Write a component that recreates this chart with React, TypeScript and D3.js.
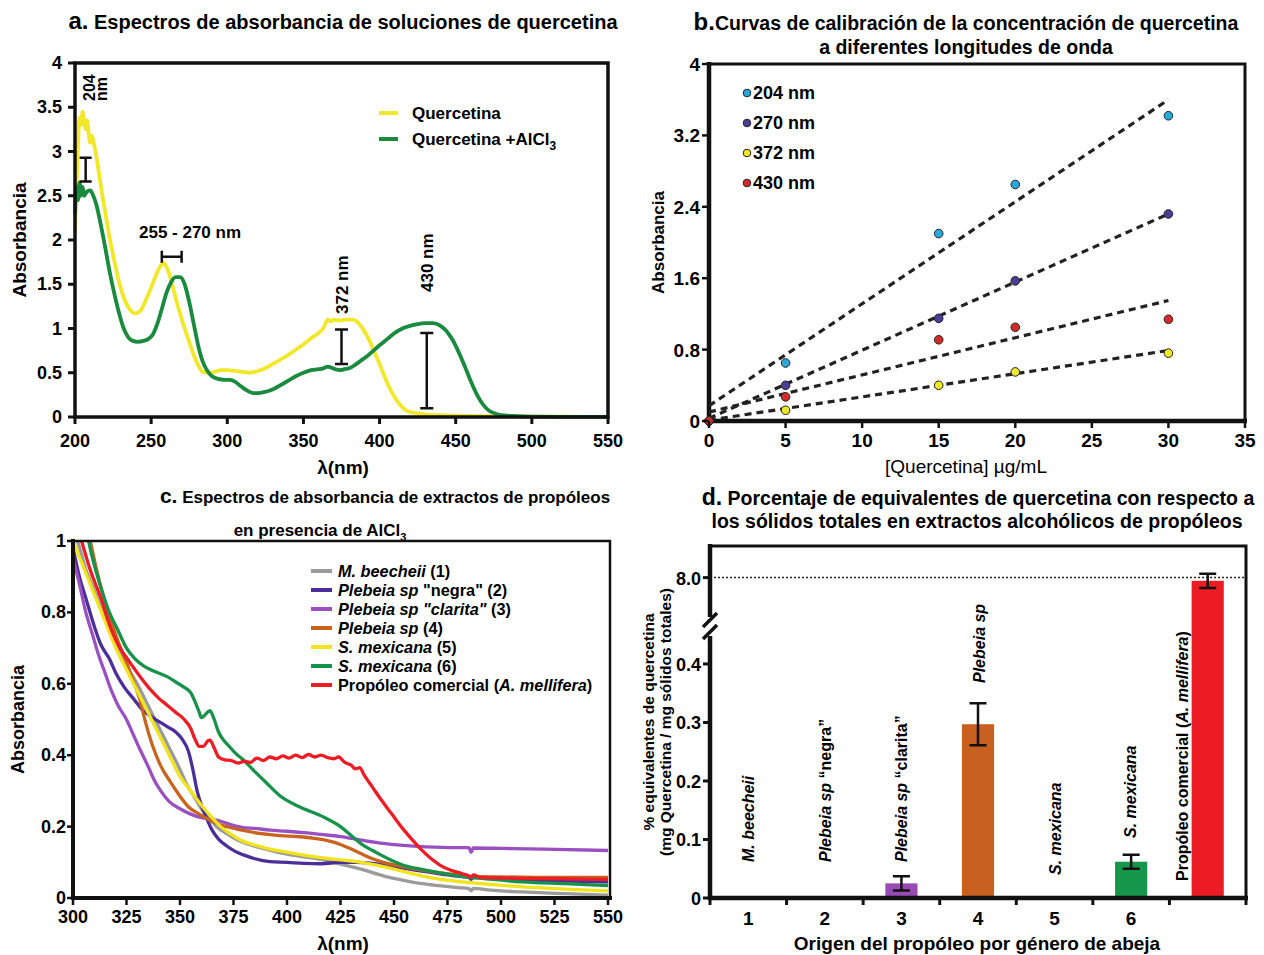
import React from 'react';
import * as d3 from 'd3';

const FONT = "'Liberation Sans', Arial, Helvetica, sans-serif";
const NARROW = "'Liberation Sans Narrow', 'Liberation Sans', Arial, sans-serif";

// ---------- panel a: quercetin spectra ----------
const quercetina: [number, number][] = [
  [200, 2.1], [201, 2.6], [202, 3.1], [203, 3.38], [204, 3.3], [205, 3.45], [206, 3.35], [207, 3.25],
  [208, 3.35], [209, 3.2], [210, 3.1], [211, 3.18], [212, 3.12], [214, 2.95], [216, 2.72], [218, 2.5],
  [220, 2.3], [223, 2.0], [226, 1.75], [229, 1.52], [232, 1.35], [235, 1.24], [238, 1.18], [240, 1.17],
  [243, 1.2], [246, 1.3], [249, 1.42], [252, 1.55], [255, 1.67], [258, 1.74], [260, 1.7], [263, 1.55],
  [266, 1.35], [269, 1.17], [272, 1.0], [275, 0.85], [278, 0.7], [281, 0.58], [284, 0.51], [288, 0.5],
  [292, 0.51], [296, 0.53], [300, 0.53], [305, 0.52], [310, 0.51], [315, 0.5], [320, 0.52], [325, 0.55],
  [330, 0.6], [335, 0.65], [340, 0.7], [345, 0.76], [350, 0.82], [355, 0.89], [360, 0.95], [363, 1.0],
  [366, 1.1], [368, 1.08], [370, 1.1], [374, 1.09], [378, 1.1], [382, 1.1], [385, 1.08], [388, 1.02],
  [391, 0.94], [394, 0.84], [397, 0.72], [400, 0.6], [403, 0.47], [406, 0.35], [409, 0.25], [412, 0.17],
  [415, 0.11], [418, 0.07], [422, 0.05], [426, 0.04], [430, 0.03], [440, 0.02], [460, 0.012], [480, 0.008],
  [500, 0.005], [520, 0.003], [550, 0.002],
];

const quercetinaAlcl3: [number, number][] = [
  [200, 2.3], [201, 2.6], [202, 2.45], [203, 2.65], [204, 2.5], [205, 2.6], [206, 2.5], [208, 2.55],
  [210, 2.56], [212, 2.5], [214, 2.4], [216, 2.25], [218, 2.08], [220, 1.9], [223, 1.62], [226, 1.38],
  [229, 1.17], [232, 1.0], [235, 0.9], [238, 0.86], [241, 0.85], [245, 0.86], [248, 0.88], [251, 0.93],
  [254, 1.05], [257, 1.22], [260, 1.4], [263, 1.52], [266, 1.58], [269, 1.58], [272, 1.5], [275, 1.3],
  [278, 1.05], [281, 0.8], [284, 0.62], [287, 0.52], [290, 0.46], [294, 0.43], [298, 0.42], [302, 0.42],
  [305, 0.4], [308, 0.36], [311, 0.32], [314, 0.29], [317, 0.27], [320, 0.27], [324, 0.28], [328, 0.3],
  [332, 0.33], [336, 0.37], [340, 0.41], [345, 0.46], [350, 0.5], [355, 0.53], [360, 0.54], [363, 0.55],
  [366, 0.57], [368, 0.56], [371, 0.54], [374, 0.53], [377, 0.54], [380, 0.55], [384, 0.59], [388, 0.64],
  [392, 0.69], [396, 0.75], [400, 0.81], [405, 0.88], [410, 0.95], [415, 1.0], [420, 1.03], [425, 1.05],
  [430, 1.06], [435, 1.06], [440, 1.03], [444, 0.97], [448, 0.87], [452, 0.73], [456, 0.57], [460, 0.4],
  [464, 0.25], [468, 0.14], [472, 0.07], [476, 0.04], [480, 0.02], [490, 0.01], [500, 0.005], [520, 0.002],
  [550, 0.001],
];

// ---------- panel b: calibration ----------
const calibConc = [0, 5, 15, 20, 30];
const abs204 = [0, 0.65, 2.1, 2.65, 3.42];
const abs270 = [0, 0.4, 1.15, 1.57, 2.32];
const abs372 = [0, 0.12, 0.4, 0.55, 0.76];
const abs430 = [0, 0.27, 0.91, 1.05, 1.14];
const fitEnds = [0, 30];
const fit204 = [0.17, 3.6];
const fit270 = [0.03, 2.32];
const fit372 = [0.01, 0.79];
const fit430 = [0.1, 1.35];
const calibLabels = ['204 nm', '270 nm', '372 nm', '430 nm'];
const calibColors = ['#2aa8dc', '#4a3d96', '#efe72c', '#d32b2b'];

// ---------- panel c: propolis spectra ----------
const mBeecheii: [number, number][] = [
  [300, 1.02], [302, 1.0], [306, 0.92], [310, 0.86], [315, 0.78], [320, 0.71], [325, 0.65], [330, 0.6],
  [335, 0.54], [340, 0.48], [345, 0.42], [350, 0.36], [353, 0.32], [356, 0.29], [360, 0.25], [364, 0.22],
  [368, 0.195], [372, 0.18], [376, 0.165], [380, 0.155], [388, 0.14], [396, 0.128], [405, 0.118],
  [416, 0.108], [425, 0.095], [435, 0.08], [445, 0.062], [454, 0.05], [463, 0.04], [472, 0.034],
  [480, 0.029], [485, 0.026], [486, 0.02], [487, 0.027], [495, 0.022], [510, 0.017], [530, 0.012], [550, 0.008],
];
const plebeiaNegra: [number, number][] = [
  [300, 0.98], [303, 0.9], [306, 0.84], [310, 0.76], [313, 0.71], [317, 0.67], [320, 0.63], [324, 0.59],
  [328, 0.56], [332, 0.53], [336, 0.51], [340, 0.495], [344, 0.48], [348, 0.465], [351, 0.445], [354, 0.41],
  [356, 0.36], [358, 0.3], [360, 0.26], [362, 0.23], [365, 0.19], [368, 0.165], [372, 0.145], [376, 0.13],
  [380, 0.12], [385, 0.11], [392, 0.102], [400, 0.1], [408, 0.097], [416, 0.096], [425, 0.1], [432, 0.1],
  [440, 0.097], [448, 0.09], [456, 0.082], [463, 0.075], [472, 0.067], [482, 0.06], [485, 0.058],
  [486, 0.052], [487, 0.058], [500, 0.053], [520, 0.049], [550, 0.045],
];
const plebeiaClarita: [number, number][] = [
  [300, 0.95], [303, 0.88], [306, 0.8], [309, 0.74], [312, 0.68], [315, 0.63], [318, 0.58], [321, 0.54],
  [325, 0.5], [328, 0.46], [331, 0.42], [335, 0.37], [338, 0.33], [341, 0.3], [345, 0.27], [350, 0.25],
  [355, 0.235], [360, 0.225], [365, 0.22], [369, 0.215], [374, 0.205], [379, 0.198], [385, 0.195],
  [392, 0.19], [400, 0.187], [408, 0.183], [416, 0.178], [425, 0.172], [435, 0.162], [445, 0.153],
  [453, 0.148], [463, 0.144], [472, 0.142], [480, 0.141], [485, 0.141], [486, 0.128], [487, 0.14],
  [500, 0.139], [520, 0.137], [550, 0.133],
];
const plebeiaSp: [number, number][] = [
  [306, 1.04], [308, 1.0], [311, 0.92], [314, 0.85], [317, 0.79], [321, 0.72], [325, 0.66], [328, 0.61],
  [331, 0.56], [334, 0.49], [337, 0.43], [341, 0.37], [345, 0.33], [350, 0.285], [354, 0.255], [359, 0.235],
  [364, 0.218], [370, 0.203], [379, 0.19], [388, 0.18], [397, 0.175], [405, 0.172], [412, 0.168],
  [418, 0.162], [425, 0.15], [430, 0.137], [435, 0.123], [440, 0.11], [445, 0.1], [454, 0.088],
  [463, 0.078], [472, 0.07], [482, 0.063], [486, 0.06], [490, 0.06], [500, 0.059], [520, 0.058], [550, 0.058],
];
const sMexicana5: [number, number][] = [
  [300, 1.0], [304, 0.94], [308, 0.88], [312, 0.82], [316, 0.76], [320, 0.7], [325, 0.64], [330, 0.58],
  [335, 0.52], [340, 0.46], [345, 0.4], [350, 0.34], [355, 0.3], [360, 0.26], [365, 0.225], [369, 0.2],
  [374, 0.178], [378, 0.163], [384, 0.15], [390, 0.14], [397, 0.132], [405, 0.123], [416, 0.113],
  [425, 0.107], [435, 0.1], [445, 0.088], [454, 0.075], [463, 0.062], [472, 0.052], [482, 0.045],
  [491, 0.04], [510, 0.031], [530, 0.025], [550, 0.02],
];
const sMexicana6: [number, number][] = [
  [306, 1.04], [308, 0.98], [312, 0.89], [317, 0.8], [321, 0.75], [325, 0.7], [329, 0.67], [333, 0.65],
  [338, 0.635], [344, 0.62], [348, 0.605], [352, 0.59], [355, 0.575], [357, 0.55], [359, 0.52], [360, 0.505],
  [362, 0.515], [364, 0.525], [366, 0.5], [368, 0.465], [370, 0.445], [373, 0.425], [376, 0.405],
  [379, 0.39], [384, 0.36], [390, 0.325], [397, 0.285], [406, 0.255], [416, 0.23], [425, 0.2], [430, 0.175],
  [435, 0.15], [440, 0.133], [444, 0.12], [449, 0.105], [454, 0.092], [463, 0.08], [472, 0.07],
  [482, 0.06], [491, 0.055], [510, 0.045], [530, 0.04], [550, 0.035],
];
const comercial: [number, number][] = [
  [302, 1.04], [304, 1.0], [308, 0.92], [313, 0.84], [318, 0.75], [322, 0.7], [326, 0.665], [332, 0.615],
  [336, 0.585], [340, 0.56], [344, 0.54], [348, 0.52], [352, 0.5], [355, 0.475], [357, 0.445], [359, 0.425],
  [361, 0.425], [363, 0.44], [364, 0.442], [366, 0.42], [368, 0.395], [371, 0.387], [374, 0.385],
  [377, 0.378], [380, 0.383], [383, 0.38], [386, 0.392], [389, 0.385], [392, 0.395], [395, 0.39],
  [398, 0.398], [401, 0.392], [404, 0.4], [407, 0.393], [410, 0.402], [413, 0.395], [416, 0.4],
  [419, 0.393], [422, 0.39], [424, 0.395], [427, 0.38], [430, 0.372], [432, 0.362], [434, 0.365],
  [436, 0.345], [440, 0.31], [444, 0.275], [449, 0.235], [454, 0.195], [459, 0.16], [463, 0.134],
  [468, 0.107], [472, 0.09], [477, 0.077], [482, 0.068], [485, 0.062], [486, 0.058], [487, 0.065],
  [490, 0.058], [500, 0.056], [525, 0.054], [550, 0.052],
];
const propolisSeries = [mBeecheii, plebeiaNegra, plebeiaClarita, plebeiaSp, sMexicana5, sMexicana6, comercial];
const propolisColors = ['#9b9b9b', '#4b2e9a', '#9a50c0', '#c8641e', '#f2e41c', '#17924a', '#ee1c24'];

// ---------- panel d: bars ----------
const barCats = ['1', '2', '3', '4', '5', '6', '7'];
const barValues = [0, 0, 0.025, 0.297, 0, 0.062, 7.92];
const barErrors = [0, 0, 0.012, 0.036, 0, 0.012, 0.18];
const barColors = ['#999', '#4b2e9a', '#9a4ab4', '#c8601f', '#f2e41c', '#16964a', '#ec1c24'];
const lowTicks = [0, 0.1, 0.2, 0.3, 0.4];
const highTicks = [8.0];

const VBar = ({ x, y1, y2, w }: { x: number; y1: number; y2: number; w: number }) => (
  <path d={`M${x - w / 2},${y1}H${x + w / 2}M${x},${y1}V${y2}M${x - w / 2},${y2}H${x + w / 2}`}
    stroke="#111" strokeWidth={2.5} fill="none" />
);

function PanelA() {
  const x = d3.scaleLinear().domain([200, 550]).range([75, 608]);
  const y = d3.scaleLinear().domain([0, 4]).range([417, 63]);
  const line = d3.line<[number, number]>().x(d => x(d[0])).y(d => y(d[1])).curve(d3.curveMonotoneX);
  return (
    <g>
      <text x={343} y={29} textAnchor="middle" fontWeight="bold" fontSize={20}>
        <tspan fontSize={24}>a.</tspan> Espectros de absorbancia de soluciones de quercetina
      </text>
      <path d={line(quercetina) || ''} fill="none" stroke="#f1e82a" strokeWidth={3.8} />
      <path d={line(quercetinaAlcl3) || ''} fill="none" stroke="#1a8a3e" strokeWidth={3.8} />
      <rect x={75} y={63} width={533} height={354} fill="none" stroke="#111" strokeWidth={3.5} />
      {x.ticks(7).map(t => (
        <g key={t}>
          <line x1={x(t)} x2={x(t)} y1={417} y2={424} stroke="#111" strokeWidth={3} />
          <text x={x(t)} y={447} textAnchor="middle" fontWeight="bold" fontSize={18}>{t}</text>
        </g>
      ))}
      {d3.range(0, 4.01, 0.5).map(t => (
        <g key={t}>
          <line x1={68} x2={75} y1={y(t)} y2={y(t)} stroke="#111" strokeWidth={3} />
          <text x={62} y={y(t) + 6} textAnchor="end" fontWeight="bold" fontSize={18}>{String(t)}</text>
        </g>
      ))}
      <text transform={`translate(26,${y(2)}) rotate(-90)`} textAnchor="middle" fontWeight="bold" fontSize={19}>Absorbancia</text>
      <text x={343} y={474} textAnchor="middle" fontWeight="bold" fontSize={19}>λ(nm)</text>
      {/* legend */}
      <line x1={379} x2={398} y1={113} y2={113} stroke="#f1e82a" strokeWidth={4} />
      <line x1={379} x2={398} y1={139} y2={139} stroke="#1a8a3e" strokeWidth={4} />
      <text x={412} y={119} fontWeight="bold" fontSize={17}>Quercetina</text>
      <text x={412} y={145} fontWeight="bold" fontSize={17}>Quercetina +AlCl<tspan dy={5} fontSize={12}>3</tspan></text>
      {/* annotations */}
      <text transform="translate(95,101) rotate(-90)" fontWeight="bold" fontSize={16}>204</text>
      <text transform="translate(107,101) rotate(-90)" fontWeight="bold" fontSize={16}>nm</text>
      <VBar x={x(207)} y1={y(2.93)} y2={y(2.66)} w={12} />
      <text x={190} y={238} textAnchor="middle" fontWeight="bold" fontSize={17}>255 - 270 nm</text>
      <path d={`M${x(257)},${y(1.81) - 6}V${y(1.81) + 6}M${x(257)},${y(1.81)}H${x(270)}M${x(270)},${y(1.81) - 6}V${y(1.81) + 6}`}
        stroke="#111" strokeWidth={2.5} fill="none" />
      <text transform={`translate(${x(375) + 6},314) rotate(-90)`} fontWeight="bold" fontSize={17}>372 nm</text>
      <VBar x={x(375)} y1={y(0.99)} y2={y(0.6)} w={13} />
      <text transform={`translate(${x(431) + 6},292) rotate(-90)`} fontWeight="bold" fontSize={17}>430 nm</text>
      <VBar x={x(431)} y1={y(0.95)} y2={y(0.1)} w={13} />
    </g>
  );
}

function PanelB() {
  const x = d3.scaleLinear().domain([0, 35]).range([709, 1245]);
  const y = d3.scaleLinear().domain([0, 4]).range([421, 64]);
  const series = [abs204, abs270, abs372, abs430];
  const fits = [fit204, fit270, fit372, fit430];
  return (
    <g>
      <text x={966} y={30} textAnchor="middle" fontWeight="bold" fontSize={19.5}>
        <tspan fontSize={24}>b.</tspan>Curvas de calibración de la concentración de quercetina
      </text>
      <text x={966} y={54} textAnchor="middle" fontWeight="bold" fontSize={19.5}>a diferentes longitudes de onda</text>
      <rect x={709} y={64} width={536} height={357} fill="none" stroke="#111" strokeWidth={3} />
      <line x1={709} x2={709} y1={62} y2={423} stroke="#111" strokeWidth={4.5} />
      <line x1={707} x2={1247} y1={421} y2={421} stroke="#111" strokeWidth={4.5} />
      {fits.map((f, i) => (
        <line key={i} x1={x(fitEnds[0])} y1={y(f[0])} x2={x(fitEnds[1])} y2={y(f[1])}
          stroke="#222" strokeWidth={3.2} strokeDasharray="7,5" />
      ))}
      {series.map((s, i) => s.map((v, j) => (
        <circle key={`${i}-${j}`} cx={x(calibConc[j])} cy={y(v)} r={4.3} fill={calibColors[i]} stroke="#222" strokeWidth={1} />
      )))}
      {x.ticks(7).map(t => (
        <g key={t}>
          <line x1={x(t)} x2={x(t)} y1={421} y2={428} stroke="#111" strokeWidth={2.5} />
          <text x={x(t)} y={447} textAnchor="middle" fontFamily={NARROW} fontWeight="bold" fontSize={19}>{t}</text>
        </g>
      ))}
      {[0, 0.8, 1.6, 2.4, 3.2, 4].map(t => (
        <g key={t}>
          <line x1={702} x2={709} y1={y(t)} y2={y(t)} stroke="#111" strokeWidth={2.5} />
          <text x={700} y={y(t) + 7} textAnchor="end" fontFamily={NARROW} fontWeight="bold" fontSize={19}>{String(t)}</text>
        </g>
      ))}
      <text transform={`translate(664,${y(2)}) rotate(-90)`} textAnchor="middle" fontWeight="bold" fontSize={17}>Absorbancia</text>
      <text x={966} y={473} textAnchor="middle" fontFamily={NARROW} fontSize={19}>[Quercetina] µg/mL</text>
      {calibLabels.map((l, i) => (
        <g key={l}>
          <circle cx={747} cy={93 + i * 30} r={3.8} fill={calibColors[i]} stroke="#222" strokeWidth={1} />
          <text x={753} y={99 + i * 30} fontFamily={NARROW} fontWeight="bold" fontSize={18}>{l}</text>
        </g>
      ))}
    </g>
  );
}

function PanelC() {
  const x = d3.scaleLinear().domain([300, 550]).range([73, 608]);
  const y = d3.scaleLinear().domain([0, 1]).range([898, 541]);
  const line = d3.line<[number, number]>().x(d => x(d[0])).y(d => y(d[1])).curve(d3.curveMonotoneX);
  const legend = [
    [{ t: 'M. beecheii', i: true }, { t: ' (1)', i: false }],
    [{ t: 'Plebeia sp', i: true }, { t: ' "negra" (2)', i: false }],
    [{ t: 'Plebeia sp "clarita"', i: true }, { t: ' (3)', i: false }],
    [{ t: 'Plebeia sp', i: true }, { t: ' (4)', i: false }],
    [{ t: 'S. mexicana', i: true }, { t: ' (5)', i: false }],
    [{ t: 'S. mexicana', i: true }, { t: ' (6)', i: false }],
    [{ t: 'Propóleo comercial (', i: false }, { t: 'A. mellifera', i: true }, { t: ')', i: false }],
  ];
  return (
    <g>
      <text x={385} y={503} textAnchor="middle" fontWeight="bold" fontSize={17}>
        <tspan fontSize={21}>c.</tspan> Espectros de absorbancia de extractos de propóleos
      </text>
      <text x={320} y={536} textAnchor="middle" fontWeight="bold" fontSize={17}>en presencia de AlCl<tspan dy={5} fontSize={11}>3</tspan></text>
      <defs>
        <clipPath id="clipC"><rect x={73} y={541} width={537} height={357} /></clipPath>
      </defs>
      <g clipPath="url(#clipC)">
        {propolisSeries.map((s, i) => (
          <path key={i} d={line(s) || ''} fill="none" stroke={propolisColors[i]} strokeWidth={3.3} />
        ))}
      </g>
      <rect x={73} y={541} width={537} height={357} fill="none" stroke="#111" strokeWidth={2.5} />
      <line x1={73} x2={73} y1={539} y2={900} stroke="#111" strokeWidth={4} />
      <line x1={71} x2={612} y1={898} y2={898} stroke="#111" strokeWidth={4} />
      {d3.range(300, 551, 25).map(t => (
        <g key={t}>
          <line x1={x(t)} x2={x(t)} y1={898} y2={905} stroke="#111" strokeWidth={2.5} />
          <text x={x(t)} y={923} textAnchor="middle" fontFamily={NARROW} fontWeight="bold" fontSize={18}>{t}</text>
        </g>
      ))}
      {[0, 0.2, 0.4, 0.6, 0.8, 1].map(t => (
        <g key={t}>
          <line x1={67} x2={73} y1={y(t)} y2={y(t)} stroke="#111" strokeWidth={2.5} />
          <text x={66} y={y(t) + 6} textAnchor="end" fontFamily={NARROW} fontWeight="bold" fontSize={18}>{String(t)}</text>
        </g>
      ))}
      <text transform={`translate(24,${y(0.5)}) rotate(-90)`} textAnchor="middle" fontWeight="bold" fontSize={18}>Absorbancia</text>
      <text x={343} y={950} textAnchor="middle" fontWeight="bold" fontSize={19}>λ(nm)</text>
      {legend.map((row, i) => (
        <g key={i}>
          <line x1={311} x2={332} y1={571 + i * 19} y2={571 + i * 19} stroke={propolisColors[i]} strokeWidth={4} />
          <text x={338} y={577 + i * 19} fontWeight="bold" fontSize={16.3}>
            {row.map((p, k) => <tspan key={k} fontStyle={p.i ? 'italic' : 'normal'}>{p.t}</tspan>)}
          </text>
        </g>
      ))}
    </g>
  );
}

function PanelD() {
  const x = d3.scaleBand<string>().domain(barCats).range([710, 1246]).padding(0);
  const yLow = d3.scaleLinear().domain([0, 0.45]).range([898, 634.7]);
  const yHigh = d3.scaleLinear().domain([6.7, 8.8]).range([629, 546]);
  const yv = (v: number) => (v > 1 ? yHigh(v) : yLow(v));
  const bw = x.bandwidth() * 0.42;
  const labels = [
    { parts: [{ t: 'M. beecheii', i: true }], y: 862 },
    { parts: [{ t: 'Plebeia  sp ', i: true }, { t: '“negra”', i: false }], y: 862 },
    { parts: [{ t: 'Plebeia sp ', i: true }, { t: '“clarita”', i: false }], y: 862 },
    { parts: [{ t: 'Plebeia sp', i: true }], y: 683 },
    { parts: [{ t: 'S. mexicana', i: true }], y: 875 },
    { parts: [{ t: 'S. mexicana', i: true }], y: 838 },
    { parts: [{ t: 'Propóleo comercial (', i: false }, { t: 'A. mellifera', i: true }, { t: ')', i: false }], y: 881 },
  ];
  const labelDx = [6, 6, 6, 7, 6, 5, -20];
  return (
    <g>
      <text x={978} y={505} textAnchor="middle" fontWeight="bold" fontSize={19.5}>
        <tspan fontSize={23}>d.</tspan> Porcentaje de equivalentes de quercetina con respecto a
      </text>
      <text x={977} y={528} textAnchor="middle" fontWeight="bold" fontSize={19.5}>los sólidos totales en extractos alcohólicos de propóleos</text>
      {/* dotted reference at 8.0 */}
      <line x1={710} x2={1246} y1={yHigh(8)} y2={yHigh(8)} stroke="#222" strokeWidth={1.5} strokeDasharray="2,2" />
      {barValues.map((v, i) => {
        const cx = (x(barCats[i]) || 0) + x.bandwidth() / 2;
        if (v <= 0) return null;
        return (
          <g key={i}>
            <rect x={cx - bw / 2} y={yv(v)} width={bw} height={898 - yv(v)} fill={barColors[i]} />
            <VBar x={cx} y1={yv(v + barErrors[i])} y2={yv(v - barErrors[i])} w={17} />
          </g>
        );
      })}
      {labels.map((l, i) => {
        const cx = (x(barCats[i]) || 0) + x.bandwidth() / 2 + labelDx[i];
        return (
          <text key={i} transform={`translate(${cx},${l.y}) rotate(-90)`} fontWeight="bold" fontSize={16}>
            {l.parts.map((p, k) => <tspan key={k} fontStyle={p.i ? 'italic' : 'normal'}>{p.t}</tspan>)}
          </text>
        );
      })}
      {/* frame */}
      <path d="M710,546H1246V898" fill="none" stroke="#111" strokeWidth={3} />
      <line x1={710} x2={710} y1={544} y2={617} stroke="#111" strokeWidth={4.5} />
      <line x1={710} x2={710} y1={636} y2={900} stroke="#111" strokeWidth={4.5} />
      <line x1={703} x2={717} y1={627} y2={613} stroke="#111" strokeWidth={3.5} />
      <line x1={703} x2={717} y1={639} y2={625} stroke="#111" strokeWidth={3.5} />
      <line x1={708} x2={1248} y1={898} y2={898} stroke="#111" strokeWidth={4.5} />
      {barCats.concat(['end']).map((c, i) => {
        const px = 710 + i * x.step();
        return <line key={c} x1={px} x2={px} y1={898} y2={905} stroke="#111" strokeWidth={3} />;
      })}
      {barCats.slice(0, 6).map(c => (
        <text key={c} x={(x(c) || 0) + x.bandwidth() / 2} y={925} textAnchor="middle" fontFamily={NARROW} fontWeight="bold" fontSize={19}>{c}</text>
      ))}
      {lowTicks.map(t => (
        <g key={t}>
          <line x1={703} x2={710} y1={yLow(t)} y2={yLow(t)} stroke="#111" strokeWidth={3} />
          <text x={701} y={yLow(t) + 7} textAnchor="end" fontFamily={NARROW} fontWeight="bold" fontSize={18}>{String(t)}</text>
        </g>
      ))}
      {highTicks.map(t => (
        <g key={t}>
          <line x1={703} x2={710} y1={yHigh(t)} y2={yHigh(t)} stroke="#111" strokeWidth={3} />
          <text x={701} y={yHigh(t) + 7} textAnchor="end" fontFamily={NARROW} fontWeight="bold" fontSize={18}>{t.toFixed(1)}</text>
        </g>
      ))}
      <text transform="translate(654,722) rotate(-90)" textAnchor="middle" fontWeight="bold" fontSize={15.5}>% equivalentes de quercetina</text>
      <text transform="translate(671,722) rotate(-90)" textAnchor="middle" fontWeight="bold" fontSize={15.5}>(mg Quercetina / mg  sólidos totales)</text>
      <text x={977} y={950} textAnchor="middle" fontFamily={NARROW} fontWeight="bold" fontSize={19}>Origen del propóleo por género de abeja</text>
    </g>
  );
}

export default function App() {
  return (
    <svg width={1264} height={955} style={{ position: 'absolute', left: 0, top: 0, background: '#fff' }} fontFamily={FONT}>
      <PanelA />
      <PanelB />
      <PanelC />
      <PanelD />
    </svg>
  );
}
